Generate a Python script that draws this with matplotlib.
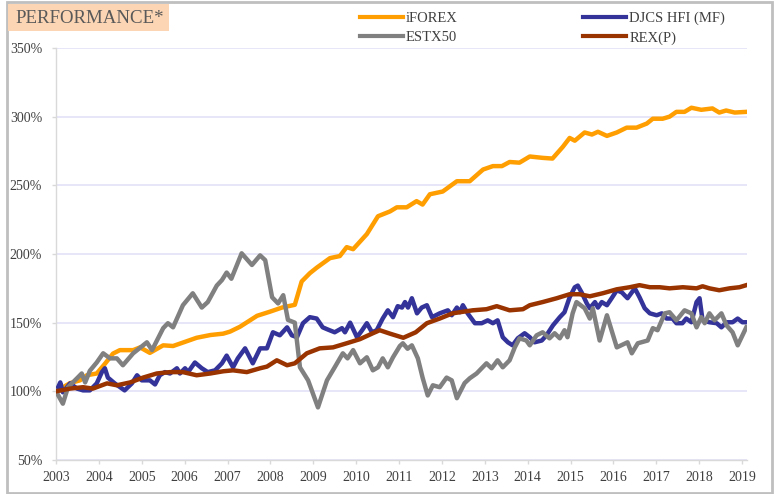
import matplotlib
matplotlib.use("Agg")
import matplotlib.pyplot as plt
from matplotlib.patches import Rectangle
from matplotlib.ticker import FuncFormatter

# ---------------- data ----------------
iforex_t = [2003.0, 2003.33, 2003.56, 2003.72, 2003.95, 2004.14, 2004.33, 2004.49, 2004.8, 2004.96,
            2005.19, 2005.5, 2005.73, 2005.96, 2006.28, 2006.6, 2006.9, 2007.06, 2007.29, 2007.69,
            2007.99, 2008.27, 2008.57, 2008.73, 2008.92, 2009.08, 2009.39, 2009.62, 2009.78, 2009.93,
            2010.25, 2010.51, 2010.79, 2010.95, 2011.18, 2011.41, 2011.55, 2011.72, 2012.02, 2012.35,
            2012.65, 2012.96, 2013.19, 2013.4, 2013.58, 2013.81, 2014.05, 2014.35, 2014.58, 2014.82,
            2014.98, 2015.1, 2015.33, 2015.5, 2015.64, 2015.85, 2016.08, 2016.31, 2016.54, 2016.78,
            2016.92, 2017.15, 2017.31, 2017.47, 2017.66, 2017.82, 2018.05, 2018.31, 2018.47, 2018.63,
            2018.83, 2019.1]
iforex_v = [100, 106, 108, 111.7, 113, 120, 127.5, 130, 130, 132,
            128, 133.5, 133, 135.5, 139, 141, 142, 143.5, 147, 155,
            158, 161, 163, 180, 186, 190, 197, 198.5, 205, 203.5,
            214.5, 227.5, 231, 234, 234, 238.5, 236, 243.5, 245.5, 253,
            253, 261.5, 264, 264, 267, 266.5, 271, 270, 269.5, 278,
            284.5, 282.5, 288.5, 287, 289, 286, 288.5, 292, 292, 295,
            298.5, 298.5, 300, 303.5, 303.5, 306.5, 305, 306, 303, 304.5,
            303, 303.5]

estx_t = [2003.0, 2003.16, 2003.28, 2003.49, 2003.6, 2003.68, 2003.79, 2003.95, 2004.1, 2004.26,
          2004.42, 2004.56, 2004.8, 2005.12, 2005.24, 2005.5, 2005.61, 2005.73, 2005.96, 2006.19,
          2006.4, 2006.54, 2006.75, 2006.87, 2006.98, 2007.09, 2007.33, 2007.57, 2007.76, 2007.88,
          2008.04, 2008.18, 2008.3, 2008.41, 2008.57, 2008.69, 2008.88, 2009.11, 2009.32, 2009.5,
          2009.69, 2009.8, 2009.93, 2010.09, 2010.25, 2010.39, 2010.51, 2010.62, 2010.74, 2010.86,
          2011.02, 2011.09, 2011.2, 2011.3, 2011.44, 2011.55, 2011.67, 2011.79, 2011.95, 2012.11,
          2012.23, 2012.35, 2012.53, 2012.65, 2012.81, 2013.04, 2013.16, 2013.3, 2013.42, 2013.58,
          2013.7, 2013.81, 2013.97, 2014.05, 2014.21, 2014.35, 2014.51, 2014.63, 2014.75, 2014.86,
          2014.93, 2015.05, 2015.14, 2015.33, 2015.45, 2015.52, 2015.68, 2015.85, 2016.08, 2016.33,
          2016.43, 2016.57, 2016.8, 2016.92, 2017.03, 2017.2, 2017.31, 2017.47, 2017.66, 2017.82,
          2017.94, 2018.05, 2018.13, 2018.24, 2018.36, 2018.52, 2018.64, 2018.78, 2018.9, 2019.1]
estx_v = [100, 91, 103, 109.5, 113, 106.5, 115, 121, 127.7, 124,
          124, 119, 127.7, 135.7, 130, 146, 149.6, 146.6, 162.7, 171.4,
          161, 165, 177, 181, 186.5, 182, 200.5, 192, 199, 195.5,
          168.5, 164, 170, 152, 150, 117.5, 108, 88.3, 108, 117.5,
          127.7, 124, 130, 120.4, 124.8, 115.3, 117.5, 124, 117.5, 124.8,
          133, 135, 131, 133.5, 124, 110, 97, 104.4, 103, 110,
          108, 95, 106, 109.5, 113, 120.4, 116.8, 122.6, 117.5, 122.6,
          132, 138.6, 137, 133.5, 140.8, 143, 138.6, 142.3, 138.6, 144.5,
          139.4, 156.8, 165, 160.5, 153, 160.5, 137, 155.4, 132, 135.7,
          127.7, 135, 137, 146, 144.5, 156.8, 157.6, 151.7, 159, 156.8,
          146.6, 154, 149.6, 156.8, 151.7, 156.8, 148, 143, 133.5, 146.6]

djcs_t = [2003.0, 2003.05, 2003.1, 2003.16, 2003.33, 2003.49, 2003.63, 2003.79, 2003.95, 2004.07,
          2004.14, 2004.21, 2004.37, 2004.54, 2004.6, 2004.77, 2004.89, 2005.0, 2005.19, 2005.31,
          2005.42, 2005.54, 2005.66, 2005.82, 2005.89, 2006.01, 2006.08, 2006.24, 2006.4, 2006.54,
          2006.71, 2006.87, 2006.98, 2007.13, 2007.24, 2007.41, 2007.59, 2007.76, 2007.92, 2008.06,
          2008.22, 2008.39, 2008.5, 2008.62, 2008.76, 2008.92, 2009.08, 2009.22, 2009.34, 2009.5,
          2009.67, 2009.74, 2009.86, 2010.02, 2010.14, 2010.25, 2010.37, 2010.48, 2010.62, 2010.74,
          2010.86, 2010.97, 2011.07, 2011.14, 2011.21, 2011.3, 2011.42, 2011.53, 2011.65, 2011.77,
          2011.95, 2012.14, 2012.23, 2012.35, 2012.42, 2012.49, 2012.6, 2012.77, 2012.93, 2013.07,
          2013.19, 2013.3, 2013.42, 2013.54, 2013.65, 2013.77, 2013.93, 2014.05, 2014.16, 2014.33,
          2014.44, 2014.59, 2014.75, 2014.86, 2014.98, 2015.1, 2015.17, 2015.26, 2015.38, 2015.45,
          2015.57, 2015.64, 2015.73, 2015.85, 2015.96, 2016.08, 2016.2, 2016.26, 2016.33, 2016.5,
          2016.61, 2016.73, 2016.85, 2017.01, 2017.13, 2017.24, 2017.38, 2017.47, 2017.61, 2017.7,
          2017.82, 2017.94, 2018.01, 2018.08, 2018.24, 2018.41, 2018.52, 2018.64, 2018.78, 2018.9,
          2019.01, 2019.1]
djcs_v = [100, 103, 106.5, 99.3, 105.8, 102, 100.7, 100.7, 105.8, 114,
          116.8, 110, 105.8, 102, 100.7, 105.8, 111.7, 108, 108, 105,
          111.7, 114, 113, 116.8, 113, 116.8, 114, 121, 116.8, 114,
          115.3, 120.4, 126, 117.5, 124, 131.3, 120.4, 131.3, 131.3, 143,
          140.8, 146.6, 140.8, 139.4, 149.6, 154, 153, 146.6, 145, 143,
          146, 143, 150, 139.4, 144.5, 149.6, 143, 144.5, 153, 159,
          154, 162, 161, 165, 161, 167.8, 156.8, 161, 162.7, 154,
          156.8, 159, 155.4, 161, 157.6, 162.7, 156.8, 149.6, 149.6, 151.7,
          149.6, 151.7, 139.4, 135.7, 133.5, 138.6, 142.3, 139.4, 135.7, 137,
          140.8, 148, 154, 157.6, 168.5, 175.8, 177, 172, 164, 160.5,
          165, 161, 165, 162.7, 167.8, 173.6, 172, 170, 167.8, 175,
          168.5, 160.5, 156.8, 155.4, 156.8, 153, 153, 149.6, 149.6, 153,
          150.3, 165, 167.8, 151.7, 150.3, 149.6, 146.6, 150.3, 150.3, 153,
          150.3, 150.3]

rex_t = [2003.0, 2003.33, 2003.63, 2003.86, 2004.19, 2004.42, 2004.73, 2005.03, 2005.35, 2005.66,
         2005.96, 2006.28, 2006.6, 2006.9, 2007.13, 2007.45, 2007.76, 2007.92, 2008.15, 2008.39,
         2008.57, 2008.85, 2009.15, 2009.46, 2009.78, 2010.09, 2010.39, 2010.55, 2010.79, 2011.1,
         2011.39, 2011.65, 2011.95, 2012.25, 2012.42, 2012.72, 2013.04, 2013.28, 2013.58, 2013.89,
         2014.05, 2014.35, 2014.68, 2014.98, 2015.21, 2015.45, 2015.75, 2016.08, 2016.38, 2016.61,
         2016.85, 2017.08, 2017.31, 2017.62, 2017.94, 2018.08, 2018.24, 2018.47, 2018.71, 2018.94,
         2019.1]
rex_v = [100, 102, 103, 102, 105.8, 104.4, 106.5, 110, 113, 114,
         114, 111.7, 113, 114.6, 115.3, 114, 116.8, 118, 122.6, 119,
         120.4, 127.7, 131.3, 132, 135, 138, 142.3, 144.5, 142, 139,
         143, 149.6, 153, 156.8, 157.6, 159, 159.8, 162, 159, 159.8,
         162.7, 165, 167.8, 170.7, 170.7, 169.2, 171.4, 174.3, 175.8, 177.3,
         175.8, 175.8, 175, 175.8, 175, 176.5, 175, 173.6, 175, 175.8,
         177.3]

year_ticks = list(range(2003, 2020))
pct_ticks = [50, 100, 150, 200, 250, 300, 350]
names = ["iFOREX", "DJCS HFI (MF)", "ESTX50", "REX(P)"]
colors = ["#FF9E00", "#333399", "#808080", "#993300"]

# ---------------- figure ----------------
W, H = 776, 494
fig = plt.figure(figsize=(W / 100, H / 100), dpi=100)
plt.rcParams["font.family"] = ["Liberation Serif", "DejaVu Serif"]

# outer frame
fig.add_artist(Rectangle((7 / W, 1 - 493 / H), (772 - 7) / W, (493 - 2) / H,
                         transform=fig.transFigure, fill=False,
                         edgecolor="#BFBFBF", linewidth=2))
# title box
fig.add_artist(Rectangle((8 / W, 1 - 31 / H), (169 - 8) / W, (31 - 4) / H,
                         transform=fig.transFigure, facecolor="#FCD5B4",
                         edgecolor="none"))
fig.text(15 / W, 1 - 18.5 / H, "PERFORMANCE*", fontsize=13.6, color="#595959",
         va="center", ha="left")

ax = fig.add_axes([56 / W, 1 - 460 / H, (747 - 56) / W, (460 - 48) / H])

lw = 3.2
h_if, = ax.plot(iforex_t, iforex_v, color=colors[0], lw=lw, zorder=2,
                solid_joinstyle="round", label=names[0])
h_dj, = ax.plot(djcs_t, djcs_v, color=colors[1], lw=lw, zorder=3,
                solid_joinstyle="round", label=names[1])
h_es, = ax.plot(estx_t, estx_v, color=colors[2], lw=lw, zorder=4,
                solid_joinstyle="round", label=names[2])
h_rx, = ax.plot(rex_t, rex_v, color=colors[3], lw=lw, zorder=5,
                solid_joinstyle="round", label=names[3])

ax.set_xlim(2003, 2003 + (747 - 56) / ((742 - 56) / 16))
ax.set_ylim(50, 350)
ax.set_xticks(year_ticks)
ax.set_yticks(pct_ticks)
ax.yaxis.set_major_formatter(FuncFormatter(lambda v, p: f"{int(v)}%"))

for s in ["top", "right"]:
    ax.spines[s].set_visible(False)
for s in ["left", "bottom"]:
    ax.spines[s].set_color("#D9D9D9")
    ax.spines[s].set_linewidth(1)

ax.grid(axis="y", color="#E1E1F7", linewidth=1.2, zorder=0)
ax.set_axisbelow(True)
ax.tick_params(axis="y", length=3, width=1, color="#D9D9D9", pad=7,
               labelsize=10, labelcolor="#404040")
ax.tick_params(axis="x", length=3, width=1, color="#D9D9D9", pad=5,
               labelsize=10, labelcolor="#404040")

leg = ax.legend([h_if, h_es, h_dj, h_rx],
                [names[0], names[2], names[1], names[3]],
                ncol=2, frameon=False, loc="upper left",
                bbox_to_anchor=(360 / W, 1 - 12 / H), bbox_transform=fig.transFigure,
                fontsize=10.5, handlelength=2.95, handletextpad=0.2,
                columnspacing=8.6, labelspacing=0.38, borderpad=0,
                borderaxespad=0)
for line in leg.get_lines():
    line.set_linewidth(3.0)
for t in leg.get_texts():
    t.set_color("#404040")

fig.savefig("out.png", dpi=100)
